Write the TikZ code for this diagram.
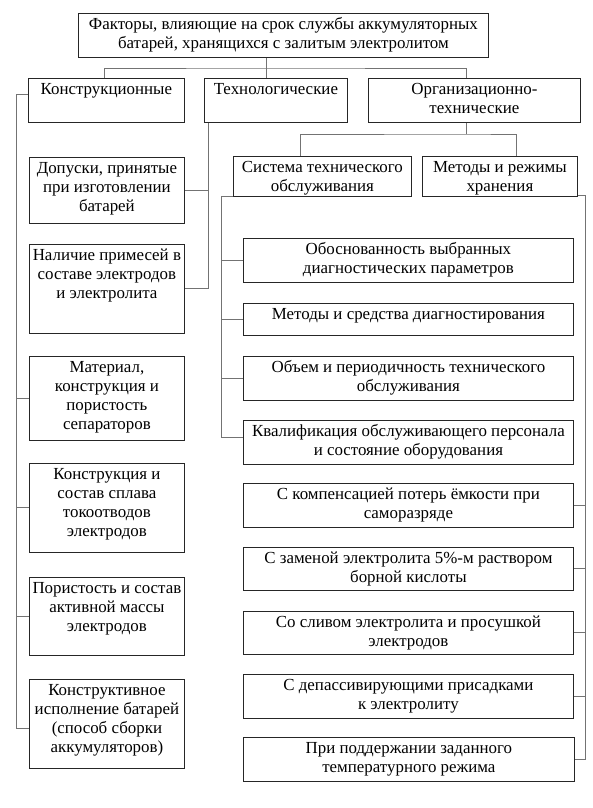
\documentclass[tikz,border=0pt]{standalone}
\usepackage{fontspec}
\setmainfont{Liberation Serif}
\usetikzlibrary{positioning, calc}
\tikzset{
  cell/.style 2 args={
    draw=black!85, line width=0.8pt, anchor=north west, inner sep=0pt,
    execute at begin node={\begin{minipage}[t][#2][t]{#1}\centering\vspace*{2.5pt}\strut},
    execute at end node={\end{minipage}}
  },
  conn/.style={draw=black!55, line width=0.9pt}
}

\begin{document}
\begin{tikzpicture}[
  x=1pt, y=-1pt,
  font=\fontsize{16.9}{19}\selectfont
]
\useasboundingbox (0,0) rectangle (592,808);

% top and second level
\node[cell={410pt}{44pt}] (fac) at (78,13) {Факторы, влияющие на срок службы аккумуляторных\\батарей, хранящихся с залитым электролитом};
\node[cell={156pt}{44pt}] (kon) at (28,78) {Конструкционные};
\node[cell={143pt}{44pt}] (tech) at (204,78) {Технологические};
\node[cell={212pt}{44pt}] (org) at (368,78) {Организационно-\\технические};
\node[cell={178pt}{40pt}] (sys) at (233,156) {Система технического\\обслуживания};
\node[cell={155pt}{40pt}] (stor) at (422,156) {Методы и режимы\\хранения};

% left column
\node[cell={155pt}{66pt}] (dop) at (29,157) {Допуски, принятые\\при изготовлении\\батарей};
\node[cell={155pt}{89pt}] (nal) at (29,244) {Наличие примесей в\\составе электродов\\и электролита};
\node[cell={155pt}{84pt}] (mat) at (29,356) {Материал,\\конструкция и\\пористость\\сепараторов};
\node[cell={155pt}{89pt}] (tok) at (29,463) {Конструкция и\\состав сплава\\токоотводов\\электродов};
\node[cell={155pt}{78pt}] (por) at (29,577) {Пористость и состав\\активной массы\\электродов};
\node[cell={155pt}{89pt}] (isp) at (29,679) {Конструктивное\\исполнение батарей\\(способ сборки\\аккумуляторов)};

% right column
\node[cell={330pt}{44pt}] (obo) at (243,238) {Обоснованность выбранных\\диагностических параметров};
\node[cell={330pt}{32pt}] (met) at (243,303) {Методы и средства диагностирования};
\node[cell={330pt}{44pt}] (obj) at (243,356) {Объем и периодичность технического\\обслуживания};
\node[cell={330pt}{44pt}] (kva) at (243,420) {Квалификация обслуживающего персонала\\и состояние оборудования};
\node[cell={330pt}{44pt}] (kom) at (243,483) {С компенсацией потерь ёмкости при\\саморазряде};
\node[cell={330pt}{43pt}] (zam) at (243,547) {С заменой электролита 5\%-м раствором\\борной кислоты};
\node[cell={330pt}{43pt}] (sli) at (243,611) {Со сливом электролита и просушкой\\электродов};
\node[cell={330pt}{44pt}] (dep) at (243,674) {С депассивирующими присадками\\к электролиту};
\node[cell={331pt}{44pt}] (pod) at (243,737) {При поддержании заданного\\температурного режима};

% tree lines
\coordinate (hub) at (266,68);
\draw[conn] (hub |- fac.south) -- (hub |- tech.north);
\draw[conn] ([xshift=-2pt]kon.north) |- (hub) -| ([xshift=-8pt]org.north);
\coordinate (hub2) at (466,134);
\draw[conn] (hub2 |- org.south) -- (hub2);
\draw[conn] ([xshift=-22pt]sys.north) |- (hub2) -| ([xshift=17pt]stor.north);

\coordinate (kspine) at (16,94);
\draw[conn] (kspine -| kon.west) -- (kspine) |- ([yshift=-5pt]isp.west);
\foreach \n in {mat,tok,por}
  \draw[conn] (\n.west) -- (\n.west -| kspine);

\coordinate (tspine) at (208,122);
\draw[conn] (tspine |- tech.south) |- (nal.east);
\draw[conn] (dop.east) -- (dop.east -| tspine);

\coordinate (sspine) at (221,196);
\draw[conn] (sspine -| sys.west) -- (sspine) |- ([yshift=5pt]kva.west);
\foreach \n in {obo,met,obj}
  \draw[conn] (\n.west) -- (\n.west -| sspine);

\coordinate (rspine) at (585,195);
\draw[conn] (rspine -| stor.east) -- (rspine) |- (pod.east);
\foreach \n in {kom,zam,sli,dep}
  \draw[conn] (\n.east) -- (\n.east -| rspine);
\end{tikzpicture}
\end{document}
